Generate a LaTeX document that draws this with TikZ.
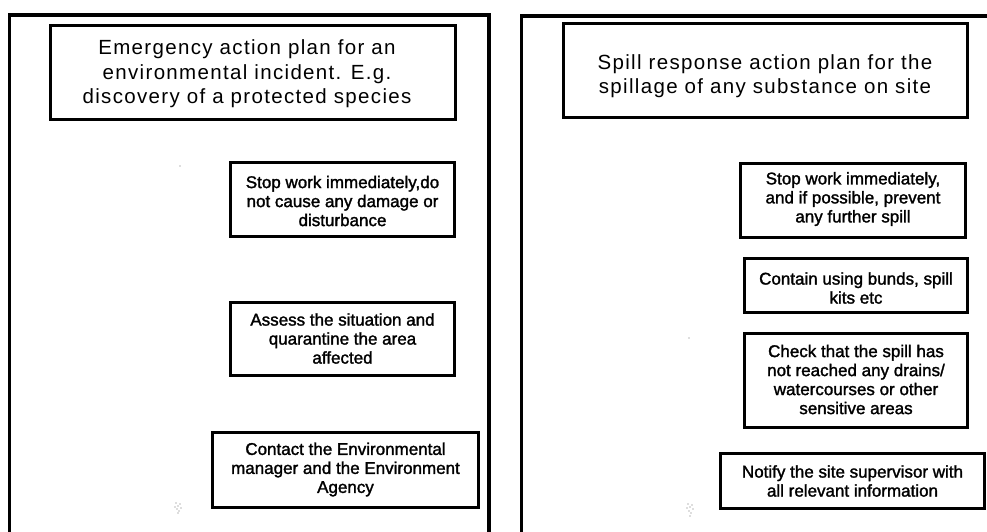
\documentclass[tikz,border=0pt]{standalone}
\usepackage{fontspec}
\setmainfont{Liberation Sans}
\newfontfamily\titlefont[LetterSpace=6.5]{Liberation Sans}
\newfontfamily\boxfont[FakeBold=1.6]{Liberation Sans}
\begin{document}
\begin{tikzpicture}[x=1pt,y=-1pt,
  frame/.style={line width=3.5pt},
  boxframe/.style={draw, line width=3pt, inner sep=0pt},
  ttext/.style={align=center, inner sep=0pt, font=\titlefont\fontsize{20.5}{24.5}\selectfont},
  btext/.style={align=center, inner sep=0pt, font=\boxfont\fontsize{17}{19}\selectfont},
  speck/.style={fill=black!55}]
\useasboundingbox (0,0) rectangle (987,531);
\clip (0,0) rectangle (987,531);
\fill[white] (0,0) rectangle (987,531);
% panel frames
\coordinate (lpa) at (9.5,545);
\coordinate (lpb) at (9.5,15);
\coordinate (lpc) at (489,15);
\coordinate (lpd) at (489,545);
\draw[frame] (lpa) -- (lpb) -- (lpc) -- (lpd);
\coordinate (rpa) at (521.5,545);
\coordinate (rpb) at (521.5,16);
\coordinate (rpc) at (1000,16);
\draw[frame] (rpa) -- (rpb) -- (rpc);
% left panel boxes
\node[boxframe, minimum width=405pt, minimum height=94pt] (lt) at (253,72.5) {};
\node[ttext] (ltT) at (247,74) {Emergency action plan for an\\environmental incident. E.g.\\discovery of a protected species};
\node[boxframe, minimum width=224pt, minimum height=74pt] (l1) at (342.5,199.5) {};
\node[btext] (l1T) at (342.5,201) {Stop work immediately,do\\not cause any damage or\\disturbance};
\node[boxframe, minimum width=224pt, minimum height=73pt] (l2) at (342.5,339) {};
\node[btext] (l2T) at (342.5,338.5) {Assess the situation and\\quarantine the area\\affected};
\node[boxframe, minimum width=266pt, minimum height=75pt] (l3) at (345.5,470) {};
\node[btext] (l3T) at (345.5,469.5) {Contact the Environmental\\manager and the Environment\\Agency};
% right panel boxes
\node[boxframe, minimum width=404pt, minimum height=94pt] (rt) at (765.5,70.5) {};
\node[ttext] (rtT) at (765,76) {Spill response action plan for the\\spillage of any substance on site};
\node[boxframe, minimum width=225pt, minimum height=74pt] (r1) at (853,200.5) {};
\node[btext] (r1T) at (853,199) {Stop work immediately,\\and if possible, prevent\\any further spill};
\node[boxframe, minimum width=223pt, minimum height=54pt] (r2) at (856,285.5) {};
\node[btext] (r2T) at (856,288) {Contain using bunds, spill\\kits etc};
\node[boxframe, minimum width=223pt, minimum height=94pt] (r3) at (856,380.5) {};
\node[btext] (r3T) at (856,379.5) {Check that the spill has\\not reached any drains/\\watercourses or other\\sensitive areas};
\node[boxframe, minimum width=264pt, minimum height=55pt] (r4) at (852.5,481) {};
\node[btext] (r4T) at (852.5,481) {Notify the site supervisor with\\all relevant information};
% specks
\fill[speck] (180,166) circle (0.6);
\foreach \p in {(176,503),(178,506),(180,504),(177,509),(179,511),(181,508),(175,507),(178,513)}
  \fill[speck] \p circle (0.6);
\fill[speck] (689,338) circle (0.6);
\foreach \p in {(688,504),(690,507),(692,505),(689,511),(691,513),(693,509),(687,508),(690,516)}
  \fill[speck] \p circle (0.6);
\end{tikzpicture}
\end{document}
